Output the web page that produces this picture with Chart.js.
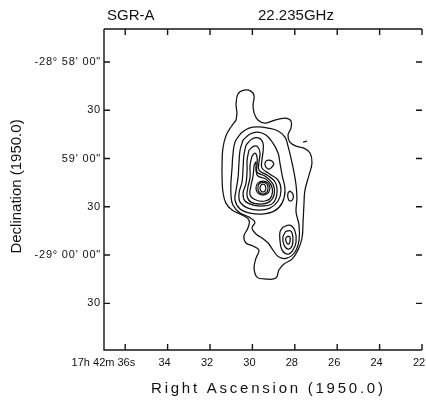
<!DOCTYPE html>
<html><head><meta charset="utf-8">
<script src="https://cdn.jsdelivr.net/npm/chart.js@4.4.1/dist/chart.umd.min.js"></script>
<style>html,body{margin:0;padding:0;background:#fff}canvas{display:block}</style>
</head><body>
<canvas id="c" width="426" height="401"></canvas>
<script>
const titleLeft = 'SGR-A';
const titleRight = '22.235GHz';
const xAxisTitle = 'Right Ascension (1950.0)';
const yAxisTitle = 'Declination (1950.0)';
const xTickValues = [36, 34, 32, 30, 28, 26, 24, 22];
const xTickLabels = ['17h 42m 36s', '34', '32', '30', '28', '26', '24', '22'];
const yTickValues = [120, 90, 60, 30, 0, -30];
const yTickLabels = ['-28° 58\' 00"', '30', '59\' 00"', '30', '-29° 00\' 00"', '30'];
const xRange = [22, 37];      // RA seconds (17h 42m ..s)
const yRange = [-59, 140.5];  // arcsec relative to -29° 00' 00"

// contours: [RA seconds, Dec arcsec offset]
const contourA = [[30.77,83.9],[31.01,79.6],[31.25,74.0],[31.39,66.5],[31.43,57.8],[31.43,48.5],[31.39,39.2],[31.25,32.3],[30.96,28.0],[30.49,24.9],[30.16,21.8],[30.21,16.8],[30.40,11.8],[30.30,7.5],[29.97,5.6],[29.69,3.1],[29.83,-1.9],[29.92,-8.1],[29.78,-13.7],[29.36,-14.9],[28.89,-14.3],[28.75,-9.3],[28.51,-5.6],[28.13,-2.5],[27.85,3.1],[27.66,10.6],[27.61,20.5],[27.57,31.1],[27.52,40.4],[27.33,49.7],[27.19,57.2],[27.28,63.4],[27.57,66.5],[27.94,67.7],[28.23,70.2],[28.32,74.6],[28.18,78.9],[28.18,83.3],[28.42,85.1],[28.75,84.5],[29.08,83.3],[29.41,82.0],[29.74,83.9],[29.92,88.3],[29.97,93.2],[29.92,98.8],[30.07,101.9],[30.40,102.5],[30.68,100.1],[30.77,93.8],[30.73,88.3]];
const contourB = [[30.54,75.8],[30.16,78.9],[29.74,79.6],[29.26,78.9],[28.79,77.1],[28.46,73.3],[28.32,67.7],[28.18,60.3],[28.04,51.6],[27.94,43.5],[27.90,35.4],[27.94,26.7],[27.80,18.6],[27.80,9.3],[27.99,1.9],[28.37,-1.9],[28.75,-1.2],[29.03,3.1],[29.26,7.5],[29.55,10.6],[29.83,13.1],[30.02,16.8],[29.88,20.5],[30.16,23.6],[30.58,26.1],[30.92,31.1],[31.01,37.3],[31.01,45.4],[30.96,54.1],[30.92,62.2],[30.82,70.2]];
const contourM1 = [[30.44,71.5],[30.11,75.2],[29.74,76.4],[29.36,74.6],[29.03,69.6],[28.79,63.4],[28.70,57.2],[28.60,49.7],[28.46,40.4],[28.60,32.3],[28.98,27.3],[29.55,25.5],[30.11,26.1],[30.58,28.6],[30.82,34.2],[30.77,40.4],[30.68,47.9],[30.63,57.8],[30.58,65.3]];
const contourM2 = [[30.30,68.4],[30.02,72.1],[29.69,72.7],[29.50,69.6],[29.50,64.0],[29.55,59.0],[29.55,54.1],[29.17,50.3],[28.79,46.6],[28.65,40.4],[28.79,33.6],[29.17,29.2],[29.69,28.0],[30.21,29.2],[30.58,32.9],[30.63,38.5],[30.49,45.4],[30.44,54.1],[30.40,62.2]];
const contourM3 = [[30.16,65.3],[29.92,67.7],[29.74,67.1],[29.64,63.4],[29.69,57.8],[29.69,52.8],[29.31,49.7],[28.93,45.4],[28.84,38.5],[29.03,32.3],[29.45,30.5],[29.97,31.1],[30.35,33.6],[30.44,38.5],[30.30,44.7],[30.25,52.8],[30.25,59.0]];
const contourM4 = [[30.02,61.5],[29.88,63.4],[29.78,60.9],[29.78,55.9],[29.78,51.6],[29.41,49.1],[29.03,44.1],[28.98,37.3],[29.22,32.9],[29.59,31.7],[30.07,32.9],[30.25,36.7],[30.21,42.3],[30.11,48.5],[30.11,55.9]];
const contourM5 = [[29.92,55.9],[29.83,57.8],[29.83,52.8],[29.74,49.1],[29.36,47.2],[29.08,42.3],[29.12,36.0],[29.41,33.6],[29.83,34.2],[30.11,37.3],[30.07,42.9],[29.97,49.1]];
const coreR1 = [[29.17,41.6],[29.26,38.5],[29.50,37.3],[29.74,38.5],[29.83,41.6],[29.74,44.7],[29.50,46.0],[29.26,44.7]];
const coreR2 = [[29.26,41.6],[29.31,39.2],[29.50,37.9],[29.69,39.2],[29.74,41.6],[29.69,44.1],[29.50,45.4],[29.31,44.1]];
const coreR3 = [[29.36,41.6],[29.41,39.8],[29.50,39.2],[29.59,39.8],[29.64,41.6],[29.59,43.5],[29.50,44.1],[29.41,43.5]];
const knotN = [[28.98,56.6],[29.08,54.7],[29.22,53.4],[29.36,54.7],[29.41,56.6],[29.36,58.4],[29.22,59.0],[29.08,58.4]];
const knotE = [[28.23,39.8],[28.09,37.9],[28.09,34.8],[28.23,33.6],[28.32,35.4],[28.32,38.5]];
const blobE1 = [[28.56,17.4],[28.23,18.6],[27.99,14.9],[27.94,8.1],[28.09,3.1],[28.32,0.6],[28.60,3.1],[28.70,9.3],[28.70,14.3]];
const blobE2 = [[28.42,14.9],[28.18,14.9],[28.09,10.6],[28.13,5.6],[28.32,3.7],[28.51,6.2],[28.56,11.2]];
const blobE3 = [[28.32,11.8],[28.23,11.2],[28.23,8.1],[28.32,6.8],[28.42,8.7],[28.42,10.6]];
const dashPiece = [[27.61,70.2],[27.42,70.9]];

const closedContours = [contourA, contourB, contourM1, contourM2, contourM3, contourM4, contourM5,
  coreR1, coreR2, coreR3, knotN, knotE, blobE1, blobE2, blobE3];
const openContours = [dashPiece];

const toPts = arr => arr.map(p => ({x: p[0], y: p[1]}));
const datasets = [];
closedContours.forEach(c => datasets.push({data: toPts(c.concat([c[0]]))}));
openContours.forEach(c => datasets.push({data: toPts(c)}));
datasets.forEach(d => Object.assign(d, {showLine: true, borderColor: '#111111', borderWidth: 1.25,
  tension: 0.4, pointRadius: 0, fill: false}));

const frame = {
  id: 'frame',
  afterDraw(chart) {
    const {ctx, chartArea: a, scales: {x, y}} = chart;
    ctx.save();
    ctx.strokeStyle = '#151515';
    ctx.lineWidth = 1.4;
    ctx.beginPath();
    ctx.moveTo(a.left, a.top); ctx.lineTo(a.right, a.top);
    ctx.moveTo(a.left, a.top); ctx.lineTo(a.left, a.bottom); ctx.lineTo(a.right, a.bottom);
    const tl = 6;
    xTickValues.forEach(v => {
      const px = x.getPixelForValue(v);
      ctx.moveTo(px, a.bottom); ctx.lineTo(px, a.bottom - tl);
      ctx.moveTo(px, a.top); ctx.lineTo(px, a.top + tl);
    });
    yTickValues.forEach(v => {
      const py = y.getPixelForValue(v);
      ctx.moveTo(a.left, py); ctx.lineTo(a.left + tl, py);
      ctx.moveTo(a.right, py); ctx.lineTo(a.right - tl, py);
    });
    ctx.stroke();

    ctx.fillStyle = '#111';
    ctx.textBaseline = 'middle';
    ctx.font = '11px "Liberation Sans", Arial, sans-serif';
    xTickValues.forEach((v, i) => {
      const px = x.getPixelForValue(v);
      if (i === 0) { ctx.textAlign = 'right'; ctx.fillText(xTickLabels[i], px + 10, 363); }
      else { ctx.textAlign = 'center'; ctx.fillText(xTickLabels[i], px - 3, 363); }
    });
    ctx.letterSpacing = '0.8px';
    ctx.textAlign = 'right';
    yTickValues.forEach((v, i) => {
      ctx.fillText(yTickLabels[i], a.left - 3, y.getPixelForValue(v));
    });
    ctx.letterSpacing = '0px';

    ctx.font = '15px "Liberation Sans", Arial, sans-serif';
    ctx.textAlign = 'left';
    ctx.fillText(titleLeft, 107, 16);
    ctx.fillText(titleRight, 258, 16);

    const target = 232;
    const w0 = ctx.measureText(xAxisTitle).width;
    const sp = Math.max(0, (target - w0) / (xAxisTitle.length - 1));
    ctx.letterSpacing = sp.toFixed(2) + 'px';
    ctx.textAlign = 'center';
    ctx.fillText(xAxisTitle, (a.left + a.right) / 2 + 4 + sp / 2, 389);
    ctx.letterSpacing = '0px';

    ctx.translate(17, (a.top + a.bottom) / 2 - 3);
    ctx.rotate(-Math.PI / 2);
    ctx.textAlign = 'center';
    ctx.fillText(yAxisTitle, 0, 0);
    ctx.restore();
  }
};

new Chart(document.getElementById('c'), {
  type: 'scatter',
  data: {datasets},
  options: {
    responsive: false,
    animation: false,
    devicePixelRatio: 1,
    layout: {padding: {left: 104, right: 4, top: 29, bottom: 51}},
    scales: {
      x: {type: 'linear', min: xRange[0], max: xRange[1], reverse: true, display: false},
      y: {type: 'linear', min: yRange[0], max: yRange[1], display: false}
    },
    plugins: {legend: {display: false}, tooltip: {enabled: false}},
    elements: {point: {radius: 0}}
  },
  plugins: [frame]
});
</script>
</body></html>
